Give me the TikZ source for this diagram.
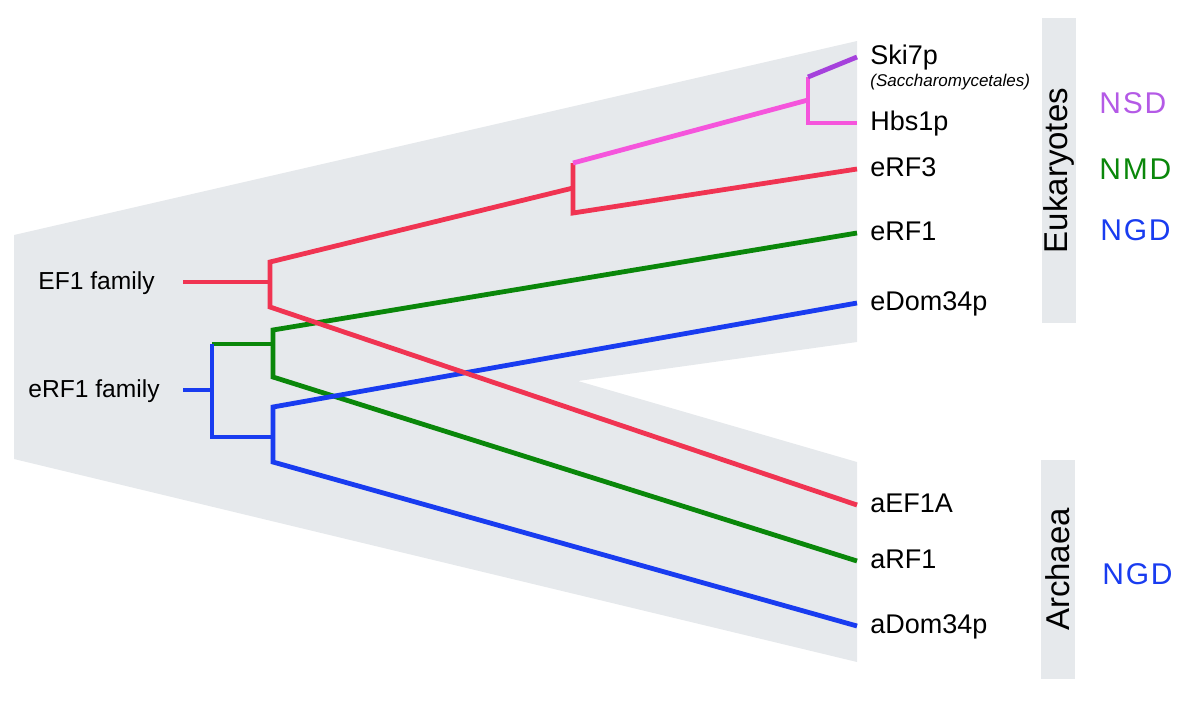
\documentclass[tikz,border=0pt]{standalone}
\usepackage{fontspec}
\setmainfont{Liberation Sans}
\newfontfamily\spacedfont[LetterSpace=6]{Liberation Sans}
\usetikzlibrary{positioning}
\definecolor{bggray}{RGB}{230,233,236}
\definecolor{redbr}{RGB}{240,52,82}
\definecolor{pinkbr}{RGB}{245,85,220}
\definecolor{purplebr}{RGB}{165,65,220}
\definecolor{greenbr}{RGB}{10,135,10}
\definecolor{bluebr}{RGB}{25,60,240}
\definecolor{nsdcol}{RGB}{180,90,230}

\begin{document}
\begin{tikzpicture}[x=0.5pt, y=-0.5pt, line width=2.4pt, line join=miter,
  leaf/.style={anchor=west, inner xsep=5.5pt, inner ysep=0pt, font=\fontsize{13.5}{16}\selectfont, text height=0.72em, text depth=0pt},
  sublabel/.style={inner xsep=5.5pt, inner ysep=0pt, font=\fontsize{8.5}{10}\selectfont\itshape, text height=0.72em, text depth=0pt},
  family/.style={inner sep=0pt, font=\fontsize{12.3}{15}\selectfont, text height=0.72em, text depth=0pt},
  taxon/.style={fill=bggray, rotate=90, inner sep=0pt, minimum height=17pt, font=\fontsize{16.5}{19}\selectfont},
  process/.style={anchor=west, inner sep=0pt, font=\fontsize{15}{18}\selectfont\spacedfont, text height=0.72em, text depth=0pt}]
    \useasboundingbox (0,0) rectangle (1200,725);
    \fill[bggray] (14,235) -- (857,41) -- (857,342) -- (578,381) -- (857,462) -- (857,662) -- (14,459) -- cycle;

    \node[taxon, minimum width=152.5pt] (euk) at (1059,170.5) {Eukaryotes};
    \node[taxon, minimum width=109.5pt] (arch) at (1057.5,569.5) {Archaea};

    \node[process, text=nsdcol] (nsd) at (1097,106) {NSD};
    \node[process, text=greenbr] (nmd) at (1097,172) {NMD};
    \node[process, text=bluebr] (ngd) at (1098,233) {NGD};
    \node[process, text=bluebr] (ngdarch) at (1100,577) {NGD};

    \node[leaf] (ski7p) at (857,57) {Ski7p};
    \node[sublabel, below=1.5pt of ski7p.south west, anchor=north west] (sacch) {(Saccharomycetales)};
    \node[leaf] (hbs1p) at (857,123) {Hbs1p};
    \node[leaf] (erf3) at (857,169) {eRF3};
    \node[leaf] (erf1) at (857,233) {eRF1};
    \node[leaf] (edom) at (857,303) {eDom34p};
    \node[leaf] (aef1a) at (857,505) {aEF1A};
    \node[leaf] (arf1) at (857,561) {aRF1};
    \node[leaf] (adom) at (857,626) {aDom34p};

    \coordinate (ef1root) at (183,282);
    \coordinate (rf1root) at (183,390);
    \node[family, left=13pt of ef1root] (ef1) {EF1 family};
    \node[family, left=10.5pt of rf1root] (rf1) {eRF1 family};

    \coordinate (nEFa) at (270,262);
    \coordinate (nEFb) at (270,307);
    \coordinate (n3a) at (573,163);
    \coordinate (n3) at (573,188);
    \coordinate (n3b) at (573,213);
    \coordinate (n4a) at (808,77);
    \coordinate (n4) at (808,100);
    \coordinate (n4b) at (808,123);
    \coordinate (nRFa) at (212,344);
    \coordinate (nRFb) at (212,437);
    \coordinate (nGa) at (273,330);
    \coordinate (nGb) at (273,377);
    \coordinate (nBa) at (273,407);
    \coordinate (nBb) at (273,462);

    \draw[greenbr] (nRFa) -- (nRFa -| nGa);
    \draw[greenbr] (erf1.west) -- (nGa) -- (nGb) -- (arf1.west);
    \draw[bluebr] (rf1root) -- (rf1root -| nRFa);
    \draw[bluebr] (nRFa) -- (nRFb) -- (nRFb -| nBa);
    \draw[bluebr] (edom.west) -- (nBa) -- (nBb) -- (adom.west);
    \draw[redbr] (ef1root) -- (ef1root -| nEFa);
    \draw[redbr] (n3) -- (nEFa) -- (nEFb) -- (aef1a.west);
    \draw[redbr] (n3a) -- (n3b) -- (erf3.west);
    \draw[pinkbr] (n3a) -- (n4);
    \draw[pinkbr] (n4a) -- (n4b) -- (hbs1p.west);
    \draw[purplebr] (n4a) -- (ski7p.west);
\end{tikzpicture}
\end{document}
